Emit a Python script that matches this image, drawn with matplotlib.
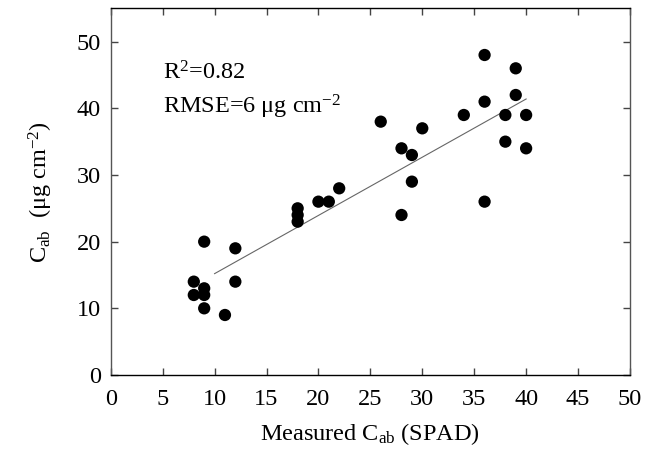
import matplotlib
matplotlib.use("Agg")
import matplotlib.pyplot as plt
import numpy as np

# measured SPAD Cab vs estimated Cab
spad = [8, 8, 9, 9, 9, 9, 11, 12, 12, 18, 18, 18, 20, 21, 22, 26,
        28, 28, 29, 29, 30, 34, 36, 36, 36, 38, 38, 39, 39, 40, 40]
cab = [12, 14, 20, 13, 12, 10, 9, 19, 14, 25, 24, 23, 26, 26, 28, 38,
       34, 24, 33, 29, 37, 39, 48, 41, 26, 39, 35, 46, 42, 39, 34]

# regression line end points
fit_x = [10, 40]
fit_y = [15.2, 41.4]

x_ticks = list(range(0, 51, 5))
y_ticks = list(range(0, 51, 10))

plt.rcParams["font.family"] = ["Liberation Serif", "DejaVu Serif"]
plt.rcParams["mathtext.fontset"] = "custom"
plt.rcParams["mathtext.rm"] = "Liberation Serif"
plt.rcParams["mathtext.it"] = "Liberation Serif:italic"

fig = plt.figure(figsize=(6.46, 4.5), dpi=100)
ax = fig.add_axes([0.1714, 0.1667, 0.8038, 0.8148])

ax.plot(fit_x, fit_y, color="#666666", lw=0.8, zorder=2)
ax.scatter(spad, cab, s=78, color="black", edgecolors="none", zorder=3)

ax.set_xlim(0, 50)
ax.set_ylim(0, 55)
ax.set_xticks(x_ticks)
ax.set_yticks(y_ticks)
ax.tick_params(direction="in", length=5, width=1, top=True, right=True,
               labelsize=17.5, color="#444444")
ax.tick_params(axis="x", pad=10)
ax.tick_params(axis="y", pad=7)
for s in ax.spines.values():
    s.set_linewidth(1)
ax.spines["left"].set_color("#555555")
ax.spines["right"].set_color("#555555")

ax.set_xlabel(r"Measured C$_{\mathrm{ab}}$ (SPAD)", fontsize=17.5, labelpad=8)
ax.set_ylabel(r"C$_{\mathrm{ab}}$  ($\mathrm{\mu}$g cm$^{-2}$)", fontsize=17.5, labelpad=16)

ax.text(5, 45.3, r"R$^2$=0.82", fontsize=17.5, va="center", ha="left")
ax.text(5, 40.2, r"RMSE=6 $\mathrm{\mu}$g cm$^{-2}$", fontsize=17.5, va="center", ha="left")

fig.savefig("out.png", dpi=100)
